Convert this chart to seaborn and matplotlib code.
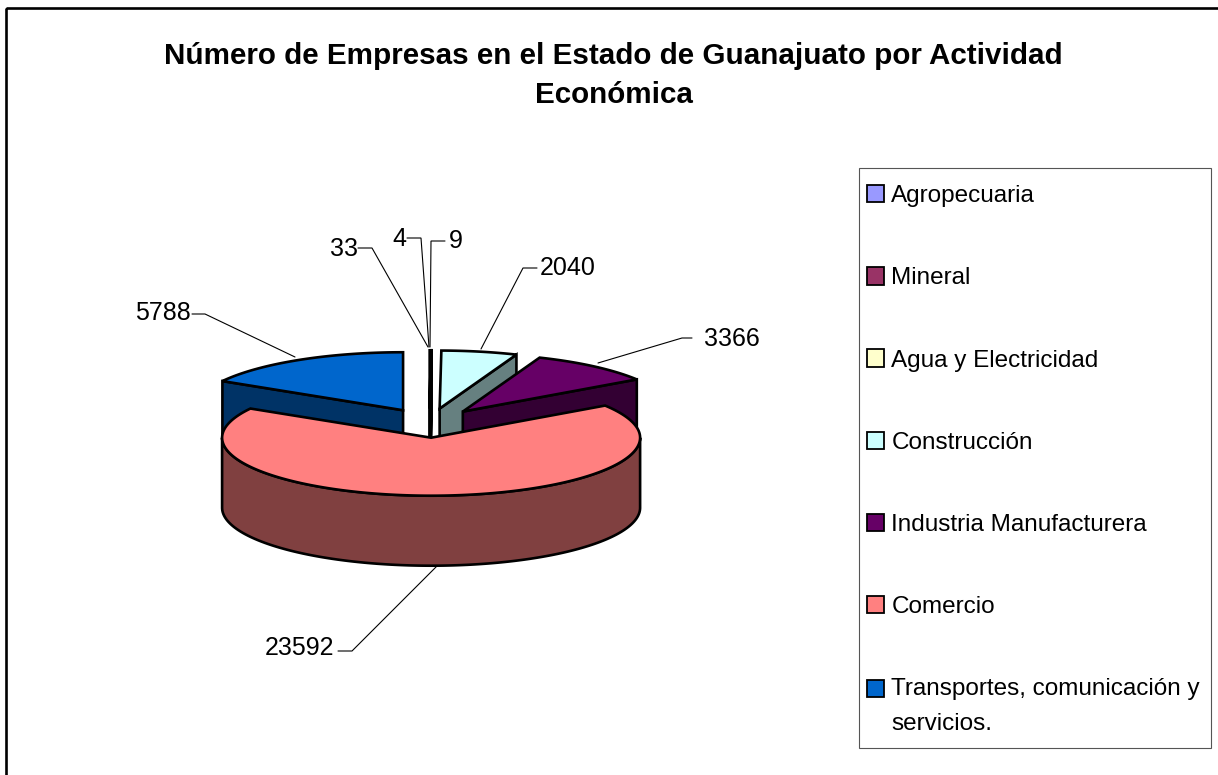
"""Pie 3D de empresas en Guanajuato por actividad economica."""

import numpy as np
import matplotlib
matplotlib.use("Agg")
import matplotlib.pyplot as plt
import seaborn as sns
from matplotlib.legend_handler import HandlerPatch
from matplotlib.patches import Patch, Polygon, Rectangle

actividades = [
    "Agropecuaria",
    "Mineral",
    "Agua y Electricidad",
    "Construcción",
    "Industria Manufacturera",
    "Comercio",
    "Transportes, comunicación y\nservicios.",
]
empresas = [33, 4, 9, 2040, 3366, 23592, 5788]
colores = ["#9999FF", "#993366", "#FFFFCC", "#CCFFFF", "#660066", "#FF8080", "#0066CC"]
titulo = "Número de Empresas en el Estado de Guanajuato por Actividad\nEconómica"

sns.set_theme(style="white")
plt.rcParams["font.family"] = ["Liberation Sans", "DejaVu Sans"]

palette = sns.color_palette(colores)

# geometria del pie, en pixeles de la figura
CX, CY = 429.5, 423
RX, RY = 209, 58
DEPTH = 70
EXPLODE = 53
LW = 1.9

fig = plt.figure(figsize=(12.18, 7.75), dpi=100, facecolor="white")
ax = fig.add_axes([0, 0, 1, 1])
ax.set_xlim(0, 1218)
ax.set_ylim(775, 0)
ax.axis("off")

# marco del grafico
ax.add_patch(Rectangle((6, 8), 1300, 900, fill=False, ec="black", lw=1.9))


def punto(c, theta):
    return np.array([c[0] + RX * np.sin(theta), c[1] - RY * np.cos(theta)])


def arco(c, t1, t2):
    ts = np.linspace(t1, t2, max(int(abs(t2 - t1) * 60), 2))
    return np.column_stack([c[0] + RX * np.sin(ts), c[1] - RY * np.cos(ts)])


def cara(pts, color):
    ax.add_patch(Polygon(pts, closed=True, fc=color, ec="black", lw=LW, joinstyle="miter"))


def oscuro(color):
    return tuple(v * 0.5 for v in color)


bordes = np.cumsum([0] + empresas) / sum(empresas) * 2 * np.pi
bajar = np.array([0, DEPTH])

# el comercio va al frente, se dibuja al final
orden = [6, 0, 1, 2, 3, 4, 5]
for i in orden:
    t1, t2 = bordes[i], bordes[i + 1]
    mid = (t1 + t2) / 2
    c = np.array([CX + EXPLODE * np.sin(mid), CY - EXPLODE * RY / RX * np.cos(mid)])
    lado = oscuro(palette[i])

    if t2 < np.pi:
        p = punto(c, t2)
        cara([c, p, p + bajar, c + bajar], lado)
    if t1 > np.pi:
        p = punto(c, t1)
        cara([c, p, p + bajar, c + bajar], lado)

    # pared exterior, solo la parte que mira al frente
    a, b = max(t1, np.pi / 2), min(t2, 3 * np.pi / 2)
    if a < b:
        frente = arco(c, a, b)
        cara(np.vstack([frente, frente[::-1] + bajar]), lado)

    cara(np.vstack([[c], arco(c, t1, t2)]), palette[i])

# etiquetas con lineas guia
etiquetas = [
    (empresas[0], 344, 249, [(358, 248), (372, 248), (428, 347)]),
    (empresas[1], 399, 239, [(407, 238), (421, 238), (429, 347)]),
    (empresas[2], 456, 241, [(445, 241), (431, 241), (430, 347)]),
    (empresas[3], 568, 268, [(537, 268), (523, 268), (481, 349)]),
    (empresas[4], 732, 339, [(692, 338), (682, 338), (598, 363)]),
    (empresas[5], 300, 648, [(338, 651), (352, 651), (437, 566)]),
    (empresas[6], 163, 313, [(192, 314), (205, 314), (295, 357)]),
]
for valor, x, y, guia in etiquetas:
    ax.text(x, y, str(valor), ha="center", va="center", fontsize=18, color="black")
    xs, ys = zip(*guia)
    ax.plot(xs, ys, color="black", lw=0.8, solid_joinstyle="miter")

ax.text(613.5, 75.5, titulo, ha="center", va="center", fontsize=21.3, fontweight="bold",
        color="black", linespacing=1.5)

# caja de la leyenda aparte, para poder ajustar el margen del texto
ax.add_patch(Rectangle((859, 168), 352, 580, fill=False, ec="#555555", lw=0.8))


def cuadro(legend, orig_handle, xdescent, ydescent, width, height, fontsize):
    # en la entrada de dos lineas el cuadro queda junto a la primera linea
    dy = 13.0 if orig_handle.get_label() == "dos_lineas" else 0
    return Rectangle((-xdescent, -ydescent + dy), width, height)


handles = [Patch(fc=col, ec="black", lw=1.3) for col in palette]
handles[-1].set_label("dos_lineas")
leg = ax.legend(
    handles, actividades,
    loc="upper left",
    bbox_to_anchor=(859, 177.5),
    bbox_transform=ax.transData,
    borderaxespad=0,
    fontsize=17.5,
    frameon=False,
    handlelength=0.72,
    handleheight=0.72,
    handletextpad=0.3,
    labelspacing=2.47,
    borderpad=0.31,
    labelcolor="black",
    handler_map={Patch: HandlerPatch(patch_func=cuadro)},
)
leg.get_texts()[-1].set_linespacing(1.75)

fig.savefig("out.png", dpi=100, facecolor="white")
